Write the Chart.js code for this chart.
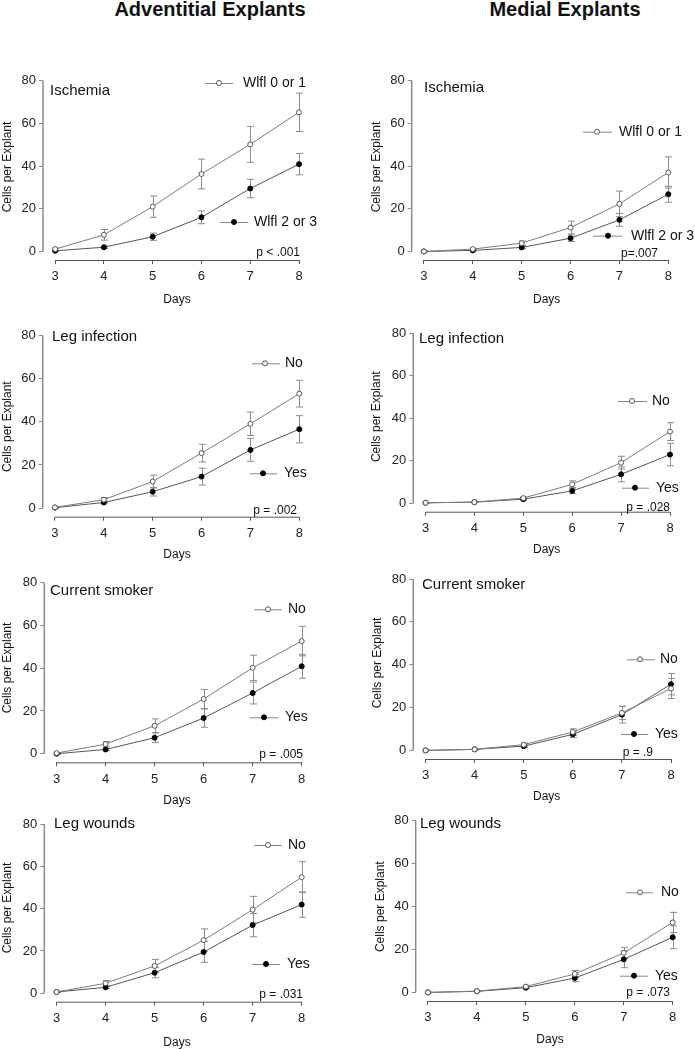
<!DOCTYPE html>
<html>
<head>
<meta charset="utf-8">
<script src="https://cdn.jsdelivr.net/npm/chart.js@4.4.1/dist/chart.umd.min.js"></script>
<style>
  body { margin:0; background:#fff; width:695px; height:1050px; position:relative; overflow:hidden;
         font-family:"Liberation Sans", Arial, sans-serif; }
  .hdr { position:absolute; top:-1px; font-size:20px; line-height:20px; font-weight:bold; color:#111;
         transform:translateX(-50%); white-space:nowrap; }
  canvas { position:absolute; }
</style>
</head>
<body>
<div class="hdr" style="left:210px">Adventitial Explants</div>
<div class="hdr" style="left:565px">Medial Explants</div>
<script>
// ---- data ----
const days = [3, 4, 5, 6, 7, 8];
const yTicks = [0, 20, 40, 60, 80];

// adventitial explants: mean cells per explant and error (±)
const advIschemia01 = [1.1, 7.8, 21, 36.3, 50.2, 65.2];
const advIschemia01Err = [0.5, 2.5, 5, 7, 8.4, 9];
const advIschemia23 = [0.3, 2, 6.9, 16, 29.5, 40.9];
const advIschemia23Err = [0.3, 0.6, 1.7, 3, 4.3, 5];
const advInfectionNo = [0.3, 3.9, 12.3, 25.5, 39.1, 53.1];
const advInfectionNoErr = [0.3, 1, 3, 4.1, 5.4, 6.2];
const advInfectionYes = [0.2, 2.6, 7.6, 14.6, 27, 36.6];
const advInfectionYesErr = [0.2, 0.6, 2, 3.9, 5.3, 6.3];
const advSmokerNo = [0.3, 4.5, 13.1, 25.6, 40.2, 52.7];
const advSmokerNoErr = [0.3, 1.2, 3.2, 4.5, 5.9, 6.9];
const advSmokerYes = [0, 2, 7.5, 16.7, 28.4, 40.9];
const advSmokerYesErr = [0.2, 0.5, 2.3, 4.3, 5.1, 5.6];
const advWoundsNo = [0.6, 4.7, 12.9, 25.1, 39.5, 54.9];
const advWoundsNoErr = [0.3, 1.3, 3.1, 5.3, 6.3, 7.3];
const advWoundsYes = [0.6, 2.8, 9.7, 19.5, 32.2, 41.9];
const advWoundsYesErr = [0.3, 0.6, 2.4, 4.9, 5.5, 6];

// medial explants
const medIschemia01 = [0, 1.1, 3.9, 11.2, 22.3, 37];
const medIschemia01Err = [0.1, 0.4, 1, 3, 6, 7.3];
const medIschemia23 = [0, 0.5, 1.9, 6.2, 14.8, 26.8];
const medIschemia23Err = [0.1, 0.3, 0.6, 1.5, 3, 3.7];
const medInfectionNo = [0.2, 0.5, 2.4, 8.9, 19.1, 33.7];
const medInfectionNoErr = [0.1, 0.2, 0.6, 1.6, 3, 4.2];
const medInfectionYes = [0.2, 0.5, 1.9, 5.8, 13.6, 22.9];
const medInfectionYesErr = [0.1, 0.2, 0.5, 1.3, 3.5, 5.3];
const medSmokerNo = [0, 0.5, 2.7, 8.6, 17.5, 28.9];
const medSmokerNoErr = [0.1, 0.2, 0.7, 1.5, 3.1, 4.7];
const medSmokerYes = [0, 0.5, 2, 7.5, 16.7, 30.9];
const medSmokerYesErr = [0.1, 0.2, 0.6, 1.5, 3.9, 5];
const medWoundsNo = [0, 0.6, 2.7, 8.6, 18.4, 32.6];
const medWoundsNoErr = [0.1, 0.2, 0.6, 1.6, 2.6, 4.7];
const medWoundsYes = [0, 0.5, 2.2, 6.7, 15.4, 25.7];
const medWoundsYesErr = [0.1, 0.2, 0.5, 1.7, 3.9, 5.3];

const panelTitles = ["Ischemia", "Leg infection", "Current smoker", "Leg wounds"];
const ischemiaLegend = ["Wlfl 0 or 1", "Wlfl 2 or 3"];
const yesNoLegend = ["No", "Yes"];
const advPValues = ["p < .001", "p = .002", "p = .005", "p = .031"];
const medPValues = ["p=.007", "p = .028", "p = .9", "p = .073"];
const yLabel = "Cells per Explant";
const xLabel = "Days";

// ---- layout (page pixels) ----
// area = [left(y axis), top(80), right(day 8), bottom(x axis line)]
// leg entries = [lineX1, lineX2, markerX, y, textX]
const layout = [
  { col:0, area:[43,80.7,299,260], title:[50,91], ylab:[8,167], xlab:[177,300],
    leg:[[205,233,219,83,243],[220,248,234,222,254]], p:[300,253] },
  { col:1, area:[411.7,80.7,668.3,260], title:[424,88], ylab:[377,167], xlab:[546.7,300],
    leg:[[583,612,597,131.7,619],[593,622,608,235.7,631]], p:[658,254] },
  { col:0, area:[42.7,335.7,299.3,516.7], title:[52,337], ylab:[8,426.7], xlab:[177,555],
    leg:[[252,280,265,363.3,285],[250,277,263,473.3,284]], p:[297,510.7] },
  { col:1, area:[413.3,333.3,670,511.7], title:[419,339], ylab:[376.7,416.7], xlab:[546.7,550],
    leg:[[618,647,632,401,652],[622,649,635,487.7,656]], p:[670,507.7] },
  { col:0, area:[44.3,582.7,301.7,762.3], title:[50,591], ylab:[8,668], xlab:[177,801],
    leg:[[254,282,268,609.3,288],[250,278,264,717.3,285]], p:[303,755] },
  { col:1, area:[413.3,579,671,759], title:[422,585], ylab:[378,663], xlab:[546.7,797],
    leg:[[627,655,640,659.3,660],[621,648,634,734,655]], p:[653,752.7] },
  { col:0, area:[44.3,824,301.7,1001.7], title:[54,824.3], ylab:[8,908], xlab:[177,1043],
    leg:[[254,282,268,845,288],[252,280,266,964,287]], p:[303,995] },
  { col:1, area:[415.7,820.7,672.7,1001], title:[420,824.3], ylab:[381,906.7], xlab:[550,1040],
    leg:[[626,653,640,892.3,661],[620,648,634,975.7,655]], p:[670,992.7] }
];

const panels = [
  [advIschemia01, advIschemia01Err, advIschemia23, advIschemia23Err, ischemiaLegend, advPValues[0]],
  [medIschemia01, medIschemia01Err, medIschemia23, medIschemia23Err, ischemiaLegend, medPValues[0]],
  [advInfectionNo, advInfectionNoErr, advInfectionYes, advInfectionYesErr, yesNoLegend, advPValues[1]],
  [medInfectionNo, medInfectionNoErr, medInfectionYes, medInfectionYesErr, yesNoLegend, medPValues[1]],
  [advSmokerNo, advSmokerNoErr, advSmokerYes, advSmokerYesErr, yesNoLegend, advPValues[2]],
  [medSmokerNo, medSmokerNoErr, medSmokerYes, medSmokerYesErr, yesNoLegend, medPValues[2]],
  [advWoundsNo, advWoundsNoErr, advWoundsYes, advWoundsYesErr, yesNoLegend, advPValues[3]],
  [medWoundsNo, medWoundsNoErr, medWoundsYes, medWoundsYesErr, yesNoLegend, medPValues[3]]
];

const FONT = '"Liberation Sans", Arial, sans-serif';
const YW = 30, XH = 30;
const R = 2.5; // marker radius
Chart.defaults.font.family = FONT;

function marker(ctx, x, y, open){
  ctx.beginPath();
  ctx.arc(x, y, R, 0, Math.PI * 2);
  ctx.fillStyle = open ? "#fff" : "#000";
  ctx.fill();
  ctx.lineWidth = 1;
  ctx.strokeStyle = open ? "#555" : "#000";
  ctx.stroke();
}

function decor(L, legendLabels, pText, ox, oy){
  return {
    id: "decor",
    beforeDatasetsDraw(chart){
      const ctx = chart.ctx, xs = chart.scales.x, ys = chart.scales.y, a = chart.chartArea;
      ctx.save();
      // offset axes like the original plot
      ctx.strokeStyle = "#8a8a8a"; ctx.lineWidth = 1.5;
      ctx.beginPath();
      ctx.moveTo(a.left, ys.getPixelForValue(yTicks[yTicks.length-1]));
      ctx.lineTo(a.left, ys.getPixelForValue(0));
      ctx.stroke();
      ctx.strokeStyle = "#555"; ctx.lineWidth = 1;
      ctx.beginPath();
      ctx.moveTo(xs.getPixelForValue(days[0]), a.bottom + 0.5);
      ctx.lineTo(xs.getPixelForValue(days[days.length-1]), a.bottom + 0.5);
      ctx.stroke();
      // error bars
      ctx.strokeStyle = "#8c8c8c"; ctx.lineWidth = 1;
      chart.data.datasets.forEach(ds => {
        ds.data.forEach((pt, i) => {
          const e = ds.err[i];
          if (!e) return;
          const x = Math.round(xs.getPixelForValue(pt.x)) + 0.5;
          const y1 = ys.getPixelForValue(pt.y + e), y2 = ys.getPixelForValue(pt.y - e);
          ctx.beginPath();
          ctx.moveTo(x, y1); ctx.lineTo(x, y2);
          ctx.moveTo(x - 3.5, y1); ctx.lineTo(x + 3.5, y1);
          ctx.moveTo(x - 3.5, y2); ctx.lineTo(x + 3.5, y2);
          ctx.stroke();
        });
      });
      ctx.restore();
    },
    afterDraw(chart){
      const ctx = chart.ctx;
      ctx.save();
      ctx.fillStyle = "#111";
      ctx.textBaseline = "middle";
      // panel title
      ctx.font = `15px ${FONT}`;
      ctx.textAlign = "left";
      ctx.fillText(panelTitles[Math.floor(chart.$idx / 2)], L.title[0] - ox, L.title[1] - oy);
      // axis titles
      ctx.font = `12px ${FONT}`;
      ctx.textAlign = "center";
      ctx.fillText(xLabel, L.xlab[0] - ox, L.xlab[1] - oy);
      ctx.save();
      ctx.translate(L.ylab[0] - ox, L.ylab[1] - oy);
      ctx.rotate(-Math.PI / 2);
      ctx.fillText(yLabel, 0, 0);
      ctx.restore();
      // p value
      ctx.textAlign = "right";
      ctx.fillText(pText, L.p[0] - ox, L.p[1] - oy);
      // legend entries
      ctx.font = `14px ${FONT}`;
      ctx.textAlign = "left";
      L.leg.forEach((g, k) => {
        const [x1, x2, mx, y, tx] = g;
        ctx.strokeStyle = "#888"; ctx.lineWidth = 1;
        ctx.beginPath();
        ctx.moveTo(x1 - ox, y - oy + 0.5); ctx.lineTo(x2 - ox, y - oy + 0.5);
        ctx.stroke();
        marker(ctx, mx - ox, y - oy, k === 0);
        ctx.fillStyle = "#111";
        ctx.fillText(legendLabels[k], tx - ox, y - oy);
      });
      ctx.restore();
    }
  };
}

panels.forEach((p, idx) => {
  const L = layout[idx];
  const [aL, aT, aR, aB] = L.area;
  const cx = L.col ? 345 : 0, cw = L.col ? 350 : 345;
  const cy = Math.round(aT - 25), ch = Math.round(aB - aT + 25 + 55);
  const cv = document.createElement("canvas");
  cv.width = cw; cv.height = ch;
  cv.style.left = cx + "px"; cv.style.top = cy + "px";
  cv.style.width = cw + "px"; cv.style.height = ch + "px";
  document.body.appendChild(cv);

  const [v0, e0, v1, e1, legendLabels, pText] = p;
  const toPts = vals => days.map((d, i) => ({ x: d, y: vals[i] }));

  const chart = new Chart(cv, {
    type: "line",
    data: {
      datasets: [
        { label: legendLabels[0], data: toPts(v0), err: e0, borderColor: "#7a7a7a", borderWidth: 1,
          pointRadius: R, pointBackgroundColor: "#fff", pointBorderColor: "#555", pointBorderWidth: 1,
          tension: 0, clip: false },
        { label: legendLabels[1], data: toPts(v1), err: e1, borderColor: "#555", borderWidth: 1,
          pointRadius: R, pointBackgroundColor: "#000", pointBorderColor: "#000", pointBorderWidth: 1,
          tension: 0, clip: false }
      ]
    },
    options: {
      responsive: false,
      animation: false,
      events: [],
      devicePixelRatio: 1,
      layout: { padding: { left: aL - cx - YW, top: aT - cy, right: cx + cw - aR, bottom: cy + ch - aB - XH } },
      plugins: { legend: { display: false }, tooltip: { enabled: false } },
      scales: {
        x: {
          type: "linear", min: 2.75, max: 8,
          afterBuildTicks: s => { s.ticks = days.map(v => ({ value: v })); },
          afterFit: s => { s.height = XH; },
          grid: { display: true, drawOnChartArea: false, drawTicks: true, tickLength: 4, color: "#555" },
          border: { display: false },
          ticks: { color: "#222", font: { size: 13 }, padding: 5 }
        },
        y: {
          min: -4, max: 80,
          afterBuildTicks: s => { s.ticks = yTicks.map(v => ({ value: v })); },
          afterFit: s => { s.width = YW; },
          grid: { display: true, drawOnChartArea: false, drawTicks: true, tickLength: 4, color: "#8a8a8a" },
          border: { display: false },
          ticks: { color: "#222", font: { size: 13 }, padding: 3 }
        }
      }
    },
    plugins: [decor(L, legendLabels, pText, cx, cy)]
  });
  chart.$idx = idx;
  chart.draw();
});
</script>
</body>
</html>
